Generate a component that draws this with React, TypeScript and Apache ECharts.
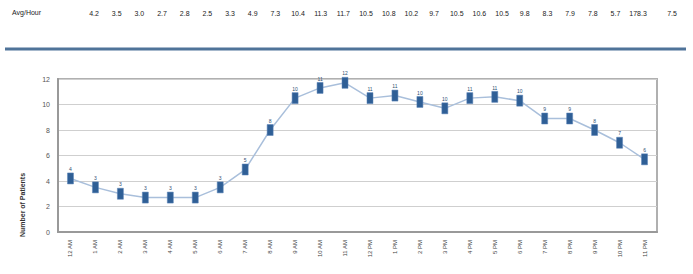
import React, { useEffect, useRef } from "react";
import * as echarts from "echarts";

const hours = [
  "12 AM", "1 AM", "2 AM", "3 AM", "4 AM", "5 AM", "6 AM", "7 AM", "8 AM", "9 AM", "10 AM", "11 AM",
  "12 PM", "1 PM", "2 PM", "3 PM", "4 PM", "5 PM", "6 PM", "7 PM", "8 PM", "9 PM", "10 PM", "11 PM",
];
const patients = [4.2, 3.5, 3.0, 2.7, 2.7, 2.7, 3.5, 4.9, 8.0, 10.5, 11.3, 11.7, 10.5, 10.7, 10.2, 9.7, 10.5, 10.6, 10.3, 8.9, 8.9, 8.0, 7.0, 5.7];
const pointLabels = ["4", "3", "3", "3", "3", "3", "3", "5", "8", "10", "11", "12", "11", "11", "10", "10", "11", "11", "10", "9", "9", "8", "7", "6"];
const topRowLabel = "Avg/Hour";
const topRowValues = ["4.2", "3.5", "3.0", "2.7", "2.8", "2.5", "3.3", "4.9", "7.3", "10.4", "11.3", "11.7", "10.5", "10.8", "10.2", "9.7", "10.5", "10.6", "10.5", "9.8", "8.3", "7.9", "7.8", "5.7", "178.3"];
const topRowLast = "7.5";
const yTicks = { min: 0, max: 12, interval: 2 };
const yAxisTitle = "Number of Patients";

export default function App() {
  const ref = useRef<HTMLDivElement>(null);
  useEffect(() => {
    const chart = echarts.init(ref.current!, undefined, { renderer: "svg" });
    const font = "Liberation Sans, Arial, sans-serif";
    const graphics: any[] = [
      {
        type: "text",
        left: 12,
        top: 9,
        style: { text: topRowLabel, fontSize: 7, fontFamily: font, fill: "#222" },
      },
      ...topRowValues.map((v, i) => ({
        type: "text",
        x: 94 + i * 22.67,
        y: 13,
        style: { text: v, fontSize: 7, fontFamily: font, fill: "#222", align: "center", verticalAlign: "middle" },
      })),
      {
        type: "text",
        x: 672,
        y: 13,
        style: { text: topRowLast, fontSize: 7, fontFamily: font, fill: "#222", align: "center", verticalAlign: "middle" },
      },
      {
        type: "line",
        shape: { x1: 5, y1: 49, x2: 686, y2: 49 },
        style: { stroke: "#4f7399", lineWidth: 3 },
      },
      {
        type: "text",
        x: 22,
        y: 205,
        rotation: Math.PI / 2,
        style: { text: yAxisTitle, fontSize: 7, fontFamily: font, fill: "#333", fontWeight: "bold", align: "center", verticalAlign: "middle" },
      },
    ];
    chart.setOption({
      animation: false,
      backgroundColor: "#ffffff",
      textStyle: { fontFamily: font },
      grid: { left: 58, right: 36, top: 79, bottom: 42, show: true, borderColor: "#b0b0b0", borderWidth: 2 },
      xAxis: {
        type: "category",
        data: hours,
        boundaryGap: true,
        axisLine: { lineStyle: { color: "#999", width: 2 } },
        axisTick: { show: false },
        axisLabel: { rotate: 90, fontSize: 6, color: "#444", margin: 8, interval: 0 },
      },
      yAxis: {
        type: "value",
        min: yTicks.min,
        max: yTicks.max,
        interval: yTicks.interval,
        axisLine: { show: true, lineStyle: { color: "#999", width: 2 } },
        axisTick: { show: false },
        axisLabel: { fontSize: 7, color: "#555", margin: 8 },
        splitLine: { lineStyle: { color: "#cfcfcf", width: 1 } },
      },
      series: [
        {
          type: "line",
          data: patients,
          symbol: "rect",
          symbolSize: [6, 11],
          lineStyle: { color: "#a9bfdb", width: 1.5 },
          itemStyle: { color: "#2f5f96", borderColor: "#5b84b8", borderWidth: 0.5 },
          label: {
            show: true,
            position: "top",
            distance: 1,
            fontSize: 5,
            color: "#2f5073",
            formatter: (p: any) => pointLabels[p.dataIndex],
          },
        },
      ],
      graphic: graphics,
    });
    return () => chart.dispose();
  }, []);
  return <div ref={ref} style={{ position: "fixed", left: 0, top: 0, width: 693, height: 274, background: "#fff" }} />;
}
